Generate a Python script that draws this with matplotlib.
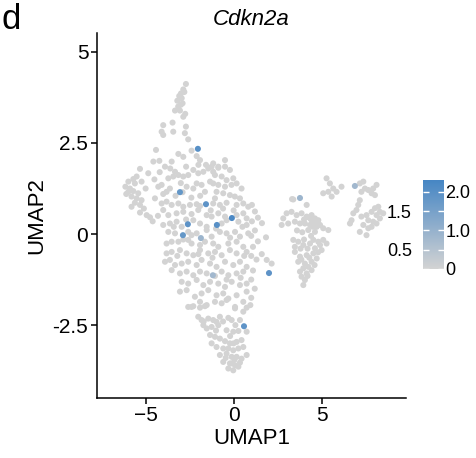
import numpy as np
import matplotlib
matplotlib.use("Agg")
import matplotlib.pyplot as plt
from matplotlib.colors import LinearSegmentedColormap, Normalize
from matplotlib.cm import ScalarMappable

plt.rcParams['font.family'] = ['Liberation Sans', 'DejaVu Sans']

# UMAP coordinates of cells with no Cdkn2a expression
spike = [(-2.71, 4.12), (-2.86, 3.97), (-2.99, 3.86), (-3.09, 3.79), (-2.95, 3.73), (-3.20, 3.66),
         (-2.90, 3.59), (-3.15, 3.50), (-3.33, 3.39), (-3.05, 3.39), (-2.86, 3.22), (-3.47, 3.06),
         (-4.00, 2.99), (-2.71, 2.95), (-4.09, 2.81), (-4.00, 2.72), (-3.43, 2.81), (-2.77, 2.77),
         (-2.58, 2.60), (-4.41, 2.31), (-2.39, 2.29), (-3.14, 2.20), (-2.86, 2.12), (-2.10, 2.14),
         (-4.56, 1.99), (-4.22, 2.01), (-3.52, 1.99), (-1.91, 2.03), (-1.57, 1.90), (-1.16, 1.94),
         (-0.49, 2.03), (-0.87, 1.85), (-2.80, 3.90), (-3.00, 3.55), (-2.75, 3.30)]

upper_body = [(-5.32, 1.79), (-4.85, 1.67), (-5.51, 1.58), (-5.70, 1.51), (-5.98, 1.44), (-5.61, 1.39),
              (-5.23, 1.44), (-5.89, 1.25), (-5.70, 1.18), (-5.98, 1.16), (-5.42, 1.12), (-5.80, 1.03),
              (-5.51, 0.98), (-5.23, 0.93), (-4.47, 0.98), (-4.28, 1.30), (-4.09, 1.35), (-3.81, 1.16),
              (-3.62, 1.25), (-3.71, 1.53), (-3.43, 1.58), (-3.14, 1.62), (-3.33, 1.71), (-2.86, 1.58),
              (-2.58, 1.62), (-2.29, 1.76), (-2.01, 1.67), (-1.72, 1.71), (-1.44, 1.80), (-1.16, 1.71),
              (-2.67, 1.30), (-2.29, 1.25), (-2.10, 1.39), (-1.82, 1.35), (-1.63, 1.16), (-1.34, 1.44),
              (-6.15, 1.30), (-6.10, 1.10), (-5.80, 0.75), (-5.10, 0.70), (-4.60, 0.35), (-4.00, 1.10),
              (-3.30, 1.05), (-2.90, 1.15), (-2.40, 1.00), (-1.90, 1.05), (-3.00, 1.40), (-4.50, 1.50),
              (-4.20, 1.70), (-3.90, 1.85), (-3.60, 1.80), (-2.70, 1.85), (-2.00, 1.90), (-5.00, 1.25),
              (-1.25, 1.85), (-0.87, 1.82), (-0.49, 1.85), (-0.21, 1.76), (-1.06, 1.62), (-0.68, 1.58),
              (-0.40, 1.48), (-0.02, 1.53), (-1.16, 1.39), (-0.87, 1.35), (-0.49, 1.30), (-0.12, 1.35),
              (0.17, 1.39), (0.45, 1.25), (-0.97, 1.16), (-0.59, 1.12), (-0.21, 1.07), (0.07, 1.03),
              (0.36, 0.98), (-1.06, 0.98)]

mid_body = [(-5.61, 0.86), (-5.32, 0.80), (-4.09, 0.84), (-3.81, 0.89), (-3.52, 0.80), (-3.14, 0.84),
            (-2.86, 0.75), (-2.48, 0.80), (-2.10, 0.82), (-1.91, 0.77), (-1.16, 0.84), (-0.78, 0.80),
            (-0.40, 0.86), (0.17, 0.80), (0.55, 0.84), (0.83, 0.75),
            (-5.32, 0.59), (-4.94, 0.52), (-4.75, 0.46), (-4.00, 0.66), (-3.71, 0.52), (-3.24, 0.57),
            (-2.86, 0.61), (-2.39, 0.55), (-2.01, 0.66), (-1.53, 0.52), (-1.25, 0.48), (-0.87, 0.57),
            (-0.49, 0.48), (0.17, 0.52), (0.55, 0.57), (0.74, 0.43),
            (-4.00, 0.25), (-3.62, 0.29), (-3.24, 0.34), (-2.95, 0.20), (-2.29, 0.38), (-1.91, 0.29),
            (-1.53, 0.20), (-0.68, 0.29), (-0.40, 0.38), (0.27, 0.34), (0.74, 0.25),
            (-3.71, 0.06), (-3.33, 0.02), (-2.58, 0.06), (-2.39, -0.03), (-2.10, 0.02), (-1.53, 0.11),
            (-1.25, -0.07), (-0.78, 0.06), (-0.40, 0.02), (0.08, 0.06), (0.36, -0.07), (0.83, 0.02),
            (-3.81, -0.26), (-3.52, -0.21), (-3.14, -0.21), (-2.86, -0.15), (-2.58, -0.16), (-2.39, -0.26),
            (-1.91, -0.30), (-1.63, -0.21), (-1.16, -0.26), (-0.87, -0.35), (-0.30, -0.26), (0.17, -0.21),
            (0.55, -0.35),
            (-3.81, -0.53), (-3.52, -0.49), (-3.05, -0.44), (-2.67, -0.53), (-2.29, -0.58), (-1.91, -0.44),
            (-1.44, -0.53), (-1.06, -0.49), (-0.68, -0.58), (-0.21, -0.44), (0.17, -0.53), (0.74, -0.49),
            (-3.90, -0.76), (-3.62, -0.71), (-3.33, -0.85), (-2.95, -0.81), (-2.58, -0.76), (-2.10, -0.85),
            (-1.82, -0.71), (-1.34, -0.81), (-0.97, -0.90), (-0.49, -0.76), (-0.02, -0.85), (0.36, -0.76),
            (0.74, -0.90),
            (-3.52, -0.99), (-3.05, -1.08), (-2.67, -1.03), (-2.29, -1.13), (-1.91, -1.03), (-1.53, -1.08),
            (-1.06, -1.15), (-0.68, -1.03), (-0.30, -1.13), (0.17, -1.08), (0.55, -1.03),
            (-2.95, -1.31), (-2.58, -1.36), (-2.10, -1.26), (-1.72, -1.40), (-1.34, -1.31), (-0.87, -1.36),
            (-0.49, -1.45), (-0.11, -1.31), (0.36, -1.40), (0.74, -1.36),
            (-3.05, -1.58), (-2.67, -1.54), (-2.20, -1.72), (-1.82, -1.63), (-1.44, -1.54), (-0.97, -1.68),
            (-0.59, -1.63), (-0.30, -1.77), (0.17, -1.68), (0.74, -1.58),
            (-2.58, -2.00), (-2.29, -1.98), (-1.91, -1.86), (-1.53, -1.95), (-1.06, -1.86), (-0.68, -1.90),
            (-0.40, -1.81), (0.08, -2.00), (0.55, -1.86),
            (-1.30, 0.65), (-0.60, 0.70), (0.00, 0.65), (0.50, 0.20), (-1.00, 0.15), (-0.20, -0.10),
            (0.60, -0.60), (-1.20, -0.65), (-0.40, -1.25), (0.40, -1.20), (-2.00, -0.55), (-3.20, -0.60),
            (-3.40, 0.20), (-2.70, 0.40), (-4.30, 0.50),
            (1.04, 0.80), (1.21, 0.62), (1.38, 0.45), (1.04, 0.35), (1.61, 0.30), (1.21, 0.10),
            (1.00, -0.05), (1.38, -0.20), (1.10, -0.35), (1.00, -0.60), (1.30, -0.70), (1.60, -0.55),
            (1.88, -0.71), (2.16, -0.81), (1.84, -0.09), (1.10, -1.00), (1.00, -1.25), (1.20, -1.50),
            (1.00, -1.75), (0.95, -1.95)]

tail = [(-2.39, -2.00), (-1.91, -2.02), (-1.63, -1.98), (0.08, -2.04), (0.55, -2.13), (0.74, -2.02),
        (-2.01, -2.27), (-1.44, -2.32), (-1.16, -2.36), (-0.78, -2.27), (-0.30, -2.30), (-0.11, -2.36),
        (0.36, -2.36), (0.74, -2.68), (-1.72, -2.50), (-1.53, -2.59), (-1.25, -2.55), (-0.87, -2.50),
        (-0.40, -2.64), (-0.02, -2.68), (0.27, -2.66), (-1.34, -2.77), (-1.06, -2.82), (-0.78, -2.87),
        (-0.49, -2.94), (-0.21, -3.00), (0.17, -2.96), (0.45, -2.91), (-1.25, -3.00), (-0.97, -3.10),
        (-0.59, -3.14), (-0.30, -3.14), (-0.02, -3.19), (0.27, -3.14), (0.55, -3.10), (-0.78, -3.32),
        (-0.40, -3.28), (-0.11, -3.37), (0.17, -3.37), (0.45, -3.42), (0.74, -3.32), (-0.59, -3.51),
        (-0.21, -3.55), (0.08, -3.60), (0.36, -3.53), (-0.30, -3.69), (-0.02, -3.74), (0.27, -3.64),
        (-1.82, -2.36), (-0.97, -2.41), (-1.70, -2.40), (-0.60, -2.40), (0.10, -2.50), (-1.00, -2.65),
        (-0.20, -2.80), (0.00, -3.00), (-0.45, -3.40), (0.05, -3.45), (-0.10, -3.55)]

mid_cluster = [(3.39, 0.95), (4.15, 0.80), (3.01, 0.57), (3.29, 0.61), (3.58, 0.52), (3.86, 0.57),
               (4.15, 0.48), (4.43, 0.52), (4.62, 0.43), (4.81, 0.38), (4.53, 0.34), (4.34, 0.25),
               (4.72, 0.20), (4.91, 0.25), (4.05, 0.29), (3.77, 0.29), (3.48, 0.34), (2.82, 0.43),
               (2.73, 0.25), (3.10, 0.29), (4.24, 0.11), (4.62, 0.06), (5.09, 0.16), (5.38, 0.11),
               (3.39, -0.16), (3.67, -0.21), (3.48, -0.35), (3.96, -0.30), (4.34, -0.26), (4.53, -0.16),
               (4.81, -0.21), (5.09, -0.16), (5.28, -0.26), (4.91, -0.30), (4.62, -0.39), (5.00, -0.44),
               (3.48, -0.49), (3.77, -0.62), (4.15, -0.58), (4.53, -0.53), (4.72, -0.67), (3.67, -0.76),
               (4.05, -0.81), (4.43, -0.76), (4.24, -0.90), (3.96, -0.94), (3.77, -1.03), (4.15, -1.08),
               (4.43, -0.99), (3.86, -1.17), (4.05, -1.26), (3.96, -1.40), (3.32, 0.96),
               (4.40, 0.40), (4.50, 0.20), (4.30, 0.45), (4.70, 0.30), (4.00, 0.40), (3.60, 0.10),
               (3.90, 0.05), (4.40, -0.05), (4.00, -0.15), (4.20, -0.40), (4.80, -0.50), (3.80, -0.40),
               (4.30, -0.65), (4.60, -0.85), (3.85, -0.70), (4.20, -1.15)]

right_cluster = [(5.28, 1.53), (5.47, 1.39), (5.66, 1.25), (5.38, 1.16), (5.09, 1.12), (5.57, 1.03),
                 (5.85, 1.16), (6.13, 1.30), (7.17, 1.39), (7.37, 1.44), (7.46, 1.25), (7.26, 1.16),
                 (7.65, 1.21), (7.93, 1.25), (8.12, 1.35), (7.84, 1.12), (8.03, 1.07), (7.17, 0.93),
                 (7.08, 0.80), (6.98, 0.66), (6.80, 0.57), (6.70, 0.38), (6.61, 0.29), (7.26, 0.48),
                 (7.55, 0.52), (7.84, 0.61), (8.03, 0.71), (8.22, 0.75), (8.31, 0.61), (8.12, 0.52),
                 (7.65, 0.38), (7.93, 0.34), (8.31, 0.43), (8.50, 0.57), (7.37, 0.25), (7.65, 0.16),
                 (7.17, 0.06), (7.55, -0.03), (8.12, 0.29), (7.84, 0.20)]

# cells with Cdkn2a expression: (UMAP1, UMAP2, expression)
expressing = [(-2.03, 2.34, 2.0), (-3.05, 1.15, 1.8), (-1.57, 0.82, 1.9), (-2.60, 0.27, 1.9),
              (-0.95, 0.25, 2.0), (-0.10, 0.44, 2.2), (-2.88, -0.03, 1.8), (-1.86, -0.11, 0.9),
              (-1.18, -1.13, 0.8), (0.59, -2.53, 1.9), (2.01, -1.07, 1.9), (3.77, 0.99, 0.9),
              (6.89, 1.32, 0.8)]

cmap = LinearSegmentedColormap.from_list('expr', ['#D3D3D3', '#4686C4'])
norm = Normalize(vmin=0, vmax=2.3)

grey = np.array(spike + upper_body + mid_body + tail + mid_cluster + right_cluster)
pos = np.array(expressing)

fig = plt.figure(figsize=(4.77, 4.58), dpi=100)
ax = fig.add_axes([0.2027, 0.131, 0.6483, 0.797])
ax.scatter(grey[:, 0], grey[:, 1], c=np.zeros(len(grey)), cmap=cmap, norm=norm, s=19, linewidths=0)
ax.scatter(pos[:, 0], pos[:, 1], c=pos[:, 2], cmap=cmap, norm=norm, s=19, linewidths=0)

ax.set_xlim(-7.78, 9.79)
ax.set_ylim(-4.5, 5.52)
ax.set_xticks([-5, 0, 5])
ax.set_yticks([-2.5, 0, 2.5, 5])
ax.set_yticklabels(['-2.5', '0', '2.5', '5'])
for s in ['top', 'right']:
    ax.spines[s].set_visible(False)
for s in ['left', 'bottom']:
    ax.spines[s].set_linewidth(1.1)
ax.tick_params(length=4, width=1.1, labelsize=15, colors='black', pad=2)
ax.set_xlabel('UMAP1', fontsize=16, labelpad=2)
ax.set_ylabel('UMAP2', fontsize=16, labelpad=4)
ax.set_title('Cdkn2a', fontsize=16, style='italic', pad=6)

cax = fig.add_axes([0.887, 0.4127, 0.044, 0.194])
cbar = fig.colorbar(ScalarMappable(norm=norm, cmap=cmap), cax=cax)
cbar.outline.set_visible(False)
cax.set_yticks([0, 1, 2], ['0', '1.0', '2.0'])
cax.set_yticks([0.5, 1.5], ['0.5', '1.5'], minor=True)
cax.tick_params(which='major', left=True, right=True, labelleft=False, labelright=True,
                direction='in', color='white', length=4, width=1, labelsize=13, pad=1)
cax.tick_params(which='minor', left=True, right=True, labelleft=True, labelright=False,
                direction='in', color='white', length=4, width=1, labelsize=13, pad=8)

fig.text(0.004, 0.994, 'd', fontsize=25, ha='left', va='top')

fig.savefig('out.png', dpi=100)
